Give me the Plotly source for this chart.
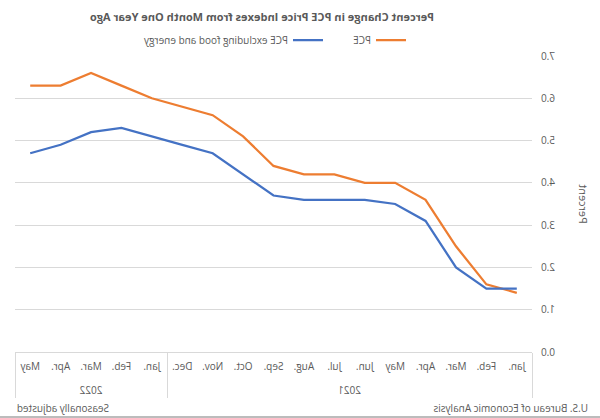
import plotly.graph_objects as go

# ---- data ----
years = ["2021"] * 12 + ["2022"] * 5
months = ["Jan.", "Feb.", "Mar.", "Apr.", "May", "Jun.", "Jul.", "Aug.", "Sep.", "Oct.", "Nov.", "Dec.",
          "Jan.", "Feb.", "Mar.", "Apr.", "May"]
pce = [1.4, 1.6, 2.5, 3.6, 4.0, 4.0, 4.2, 4.2, 4.4, 5.1, 5.6, 5.8, 6.0, 6.3, 6.6, 6.3, 6.3]
core = [1.5, 1.5, 2.0, 3.1, 3.5, 3.6, 3.6, 3.6, 3.7, 4.2, 4.7, 4.9, 5.1, 5.3, 5.2, 4.9, 4.7]

FONT = "Open Sans"
GRAY = "#595959"
GRID = "#d9d9d9"

# year labels get a leading blank line so they sit lower, as in the reference
year_labels = ["<br>" + y for y in years]
xcats = [year_labels, months]

fig = go.Figure()
fig.add_trace(go.Scatter(x=xcats, y=pce, mode="lines", name="PCE", showlegend=True,
                         line=dict(color="#ED7D31", width=2.25), legend="legend"))
fig.add_trace(go.Scatter(x=xcats, y=core, mode="lines", name="PCE excluding food and energy",
                         showlegend=True, line=dict(color="#4472C4", width=2.25), legend="legend2"))

L, R, T, B = 68, 15, 56, 66
W, H = 600, 418
pw = W - L - R
ph = H - T - B

def px_x(p):
    return (p - L) / pw

def px_y(p):
    return (H - B - p) / ph

legend_common = dict(orientation="h", yanchor="middle", xanchor="left",
                     font=dict(family=FONT, size=10, color=GRAY),
                     bgcolor="rgba(0,0,0,0)", itemclick=False, itemdoubleclick=False)

fig.update_layout(
    width=W, height=H,
    showlegend=True,
    margin=dict(l=L, r=R, t=T, b=B, autoexpand=False),
    paper_bgcolor="white", plot_bgcolor="white",
    font=dict(family=FONT, color=GRAY),
    title=dict(text="<b>Percent Change in PCE Price Indexes from Month One Year Ago</b>",
               x=338 / W, xanchor="center", y=1 - 17 / H, yanchor="middle",
               font=dict(family=FONT, size=11, color=GRAY)),
    legend=dict(x=px_x(189), y=px_y(40), **legend_common),
    legend2=dict(x=px_x(272), y=px_y(40), **legend_common),
    xaxis=dict(type="multicategory", range=[-0.5, 16.5], autorange=False,
               showgrid=False, showline=True, linecolor=GRID, linewidth=1,
               ticks="", showdividers=True, dividercolor=GRID, dividerwidth=1,
               ticklabelstandoff=5, automargin=False,
               tickfont=dict(family=FONT, size=10, color=GRAY)),
    yaxis=dict(range=[0, 7], dtick=1, tickformat=".1f", showgrid=True, gridcolor=GRID, gridwidth=1,
               zeroline=False, showline=False, ticks="", automargin=False, ticklabelstandoff=8,
               tickfont=dict(family=FONT, size=10, color=GRAY),
               title=dict(text="Percent", font=dict(family=FONT, size=11, color=GRAY), standoff=21)),
    annotations=[
        dict(text="U.S. Bureau of Economic Analysis", xref="paper", yref="paper",
             x=px_x(10), y=px_y(408), xanchor="left", yanchor="middle", showarrow=False,
             font=dict(family=FONT, size=10, color=GRAY)),
        dict(text="Seasonally adjusted", xref="paper", yref="paper",
             x=px_x(585), y=px_y(408), xanchor="right", yanchor="middle", showarrow=False,
             font=dict(family=FONT, size=10, color=GRAY)),
    ],
    shapes=[dict(type="line", xref="paper", yref="paper", x0=px_x(0), x1=px_x(W),
                 y0=px_y(417), y1=px_y(417), line=dict(color="#a6a6a6", width=1.5))],
)

post = ("document.body.style.margin='0';document.body.style.overflow='hidden';"
        "var gd=document.getElementById('{plot_id}');gd.style.transform='scaleX(-1)';")
fig.write_html("out.html", post_script=post, config={"displayModeBar": False})
